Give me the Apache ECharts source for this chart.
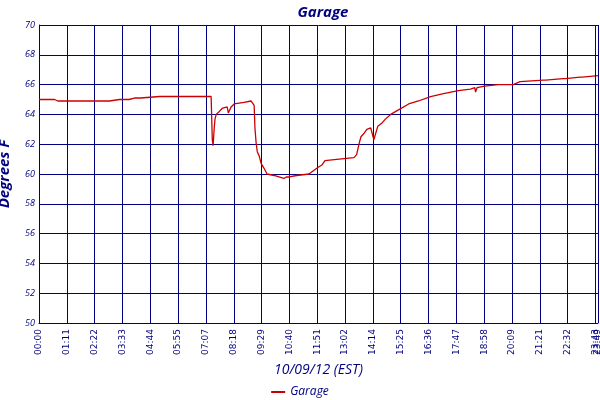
<!DOCTYPE html>
<html><head><meta charset="utf-8">
<script src="https://cdn.jsdelivr.net/npm/echarts@6/dist/echarts.min.js"></script>
<style>html,body{margin:0;padding:0;background:#fff}#c{width:600px;height:400px}</style>
</head><body><div id="c"></div>
<script>
// minutes since midnight
const times = [0,10,12,20,22,30,35,40,48,98,99,100,140,141,180,185,206,230,244,260,262,308,350,351,440,443,445,448,450,453,461,468,473,481,484,491,499,524,542,547,550,552,555,558,563,568,575,583,601,626,632,639,659,690,711,723,731,767,805,812,818,823,830,838,848,851,856,858,866,876,886,899,919,945,970,1001,1034,1072,1103,1114,1116,1120,1139,1174,1212,1230,1289,1292,1295,1340,1343,1346,1383,1386,1389,1429];
const temps = [65.0,65.0,64.9,65.0,64.9,65.0,64.9,65.0,64.9,64.9,65.0,64.9,64.9,65.0,64.9,65.0,65.0,65.0,65.1,65.1,65.2,65.2,65.2,65.2,65.2,62.3,61.9,63.1,63.7,64.0,64.2,64.4,64.5,64.5,64.1,64.5,64.7,64.8,64.9,65.0,64.6,63.1,62.1,61.5,61.2,60.7,60.4,60.0,59.9,59.7,59.8,59.8,59.9,60.0,60.4,60.6,60.9,61.0,61.1,61.3,62.0,62.5,62.7,63.0,63.1,63.2,62.3,62.4,63.2,63.4,63.7,64.0,64.3,64.7,64.9,65.2,65.4,65.6,65.7,65.8,65.5,65.8,65.9,66.0,66.0,66.2,66.3,66.2,66.3,66.4,66.3,66.4,66.5,66.4,66.5,66.6];
const tickLabels = ["00:00","01:11","02:22","03:33","04:44","05:55","07:07","08:18","09:29","10:40","11:51","13:02","14:14","15:25","16:36","17:47","18:58","20:09","21:21","22:32","23:43","23:49"];
const xStep = 71.125, xMax = 1429;
const yTicks = [50,52,54,56,58,60,62,64,66,68,70];
const lastTick = (tickLabels.length - 2) * xStep;

const navy = '#000080';
const chart = echarts.init(document.getElementById('c'));
chart.setOption({
  animation: false,
  backgroundColor: '#fff',
  title: {
    text: 'Garage', left: 318, top: 0, textAlign: 'center',
    textStyle: {color: navy, fontStyle: 'italic', fontWeight: 'bold', fontSize: 15, fontFamily: 'Open Sans'}
  },
  legend: {
    top: 381, left: 'center', itemWidth: 14, itemHeight: 2, icon: 'rect',
    textStyle: {color: navy, fontStyle: 'italic', fontSize: 12, fontFamily: 'Open Sans'},
    data: ['Garage']
  },
  grid: {left: 39, right: 2, top: 25, bottom: 77, containLabel: false, outerBoundsMode: 'none'},
  xAxis: {
    type: 'value', min: 0, max: xMax, interval: xStep,
    name: '10/09/12 (EST)', nameLocation: 'middle', nameGap: 40,
    nameTextStyle: {color: navy, fontStyle: 'italic', fontSize: 14, fontFamily: 'Open Sans'},
    axisLine: {show: true, lineStyle: {color: navy, width: 1}},
    axisTick: {show: false},
    splitLine: {show: true, lineStyle: {color: navy, width: 1}},
    axisLabel: {
      rotate: 90, color: navy, fontSize: 9, fontFamily: 'DejaVu Sans', margin: 6,
      showMaxLabel: true, showMinLabel: true, hideOverlap: false,
      formatter: function (v) {
        if (v >= xMax - 0.5) return tickLabels[tickLabels.length - 1];
        return tickLabels[Math.round(v / xStep)];
      }
    }
  },
  yAxis: {
    type: 'value', min: yTicks[0], max: yTicks[yTicks.length - 1], interval: 2,
    name: 'Degrees F', nameLocation: 'middle', nameGap: 27,
    nameTextStyle: {color: navy, fontStyle: 'italic', fontWeight: 'bold', fontSize: 15, fontFamily: 'Open Sans'},
    axisLine: {show: true, lineStyle: {color: navy, width: 1}},
    axisTick: {show: false},
    splitLine: {show: true, lineStyle: {color: navy, width: 1}},
    axisLabel: {color: navy, fontStyle: 'italic', fontSize: 9, fontFamily: 'Open Sans', margin: 4}
  },
  series: [{
    name: 'Garage', type: 'line', showSymbol: false,
    lineStyle: {color: '#cc0000', width: 1.3}, itemStyle: {color: '#cc0000'},
    data: times.map((t, i) => [t, temps[i]]),
    markLine: {
      silent: true, symbol: 'none', animation: false,
      lineStyle: {color: navy, width: 1, type: 'solid'},
      label: {
        show: true, position: 'start', formatter: tickLabels[tickLabels.length - 2],
        color: navy, fontSize: 9, fontFamily: 'DejaVu Sans', rotate: 90, distance: 6,
        align: 'right', verticalAlign: 'middle'
      },
      data: [{xAxis: lastTick}]
    }
  }]
});
</script></body></html>
